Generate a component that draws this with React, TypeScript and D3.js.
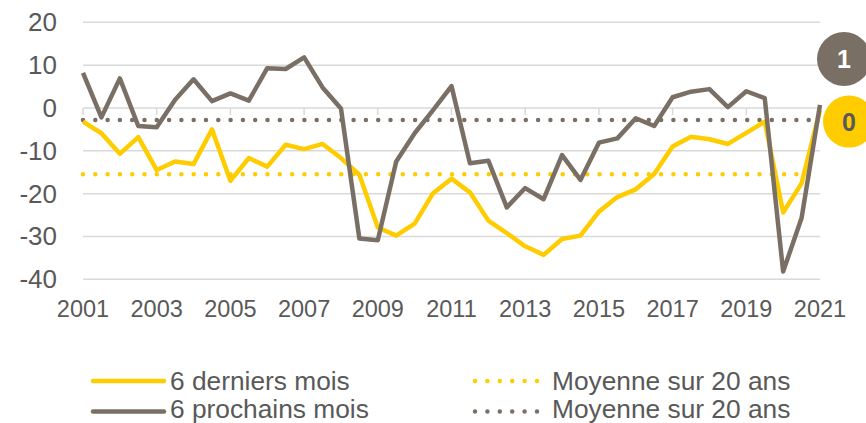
import React from "react";
import * as d3 from "d3";

const startYear = 2001;
const tickYears = ["2001", "2003", "2005", "2007", "2009", "2011", "2013", "2015", "2017", "2019", "2021"];
const yTicks = [20, 10, 0, -10, -20, -30, -40];

// semi-annual observations 2001 → 2021
const derniers = [
  -3.2, -5.9, -10.7, -6.8, -14.5, -12.5, -13.1, -5.0, -17.0, -11.7, -13.7, -8.6, -9.6, -8.4, -11.7, -15.6,
  -27.9, -29.8, -27.0, -19.9, -16.5, -19.7, -26.3, -29.2, -32.3, -34.3, -30.6, -29.8, -24.2, -20.8, -19.0,
  -15.4, -9.0, -6.7, -7.3, -8.4, -5.8, -3.2, -24.4, -17.6, -0.5,
];
const prochains = [
  8.2, -2.2, 6.9, -4.2, -4.5, 1.9, 6.7, 1.6, 3.4, 1.7, 9.3, 9.1, 11.8, 4.8, -0.1, -30.5, -30.9, -12.5, -5.9,
  -0.5, 5.1, -12.9, -12.3, -23.2, -18.7, -21.3, -11.0, -16.8, -8.1, -7.1, -2.4, -4.2, 2.5, 3.8, 4.4, 0.2, 3.9,
  2.3, -38.2, -25.7, 0.7,
];
const moyDerniers = -15.5;
const moyProchains = -2.8;
const labelDerniers = "0";
const labelProchains = "1";
const legendLabels = ["6 derniers mois", "6 prochains mois", "Moyenne sur 20 ans", "Moyenne sur 20 ans"];

const YELLOW = "#FFCC00";
const GRAY = "#7A6F65";
const GRID = "#D9D9D9";
const TEXT = "#595959";
const FONT = "'Liberation Sans', Arial, sans-serif";

export default function App() {
  const W = 866;
  const H = 423;
  const n = derniers.length;
  const x = d3.scaleLinear().domain([0, n - 1]).range([83, 820]);
  const y = d3.scaleLinear().domain([-40, 20]).range([279.3, 22.3]);
  const line = d3
    .line<number>()
    .x((_, i) => x(i))
    .y((d) => y(d));

  const lastX = x(n - 1);

  return (
    <svg
      width={W}
      height={H}
      style={{ position: "absolute", left: 0, top: 0, background: "#fff" }}
      fontFamily={FONT}
    >
      {/* gridlines */}
      {yTicks.map((t) => (
        <line key={t} x1={x(0)} x2={x(n - 1)} y1={y(t)} y2={y(t)} stroke={GRID} strokeWidth={1.5} />
      ))}
      {/* axis tick marks at 0 */}
      {tickYears.map((lab, k) => (
        <line key={lab} x1={x(k * 4)} x2={x(k * 4)} y1={y(0)} y2={y(0) + 7} stroke={GRID} strokeWidth={1.5} />
      ))}
      {/* y tick labels */}
      {yTicks.map((t) => (
        <text key={t} x={57} y={y(t) + 9} textAnchor="end" fontSize={26} fill={TEXT}>
          {t}
        </text>
      ))}
      {/* x tick labels */}
      {tickYears.map((lab, k) => (
        <text key={lab} x={x(k * 4)} y={317} textAnchor="middle" fontSize={23.5} fill={TEXT}>
          {lab}
        </text>
      ))}
      {/* averages */}
      <line
        x1={x(0)}
        x2={x(n - 1)}
        y1={y(moyProchains)}
        y2={y(moyProchains)}
        stroke={GRAY}
        strokeWidth={4.5}
        strokeLinecap="round"
        strokeDasharray="0 12.3"
      />
      <line
        x1={x(0)}
        x2={x(n - 1)}
        y1={y(moyDerniers)}
        y2={y(moyDerniers)}
        stroke={YELLOW}
        strokeWidth={4.5}
        strokeLinecap="round"
        strokeDasharray="0 12.3"
      />
      {/* series */}
      <path d={line(derniers) || ""} fill="none" stroke={YELLOW} strokeWidth={4.5} strokeLinejoin="round" />
      <path d={line(prochains) || ""} fill="none" stroke={GRAY} strokeWidth={4.5} strokeLinejoin="round" />
      {/* end labels */}
      <circle cx={lastX + 24} cy={y(prochains[n - 1]) - 46} r={27} fill={GRAY} />
      <text
        x={lastX + 24}
        y={y(prochains[n - 1]) - 46 + 9}
        textAnchor="middle"
        fontSize={25}
        fontWeight="bold"
        fill="#fff"
      >
        {labelProchains}
      </text>
      <circle cx={lastX + 29} cy={y(derniers[n - 1]) + 11.5} r={26} fill={YELLOW} />
      <text
        x={lastX + 29}
        y={y(derniers[n - 1]) + 11.5 + 9}
        textAnchor="middle"
        fontSize={25}
        fontWeight="bold"
        fill={TEXT}
      >
        {labelDerniers}
      </text>
      {/* legend */}
      <line x1={93} x2={164} y1={381} y2={381} stroke={YELLOW} strokeWidth={4.5} strokeLinecap="round" />
      <text x={170} y={389.5} fontSize={26.3} fill={TEXT}>
        {legendLabels[0]}
      </text>
      <line x1={93} x2={164} y1={411.5} y2={411.5} stroke={GRAY} strokeWidth={4.5} strokeLinecap="round" />
      <text x={170} y={418} fontSize={26.3} fill={TEXT}>
        {legendLabels[1]}
      </text>
      <line
        x1={475}
        x2={538}
        y1={381}
        y2={381}
        stroke={YELLOW}
        strokeWidth={4.5}
        strokeLinecap="round"
        strokeDasharray="0 12.4"
      />
      <text x={552} y={389.5} fontSize={26.3} fill={TEXT}>
        {legendLabels[2]}
      </text>
      <line
        x1={475}
        x2={538}
        y1={411.5}
        y2={411.5}
        stroke={GRAY}
        strokeWidth={4.5}
        strokeLinecap="round"
        strokeDasharray="0 12.4"
      />
      <text x={552} y={418} fontSize={26.3} fill={TEXT}>
        {legendLabels[3]}
      </text>
    </svg>
  );
}
